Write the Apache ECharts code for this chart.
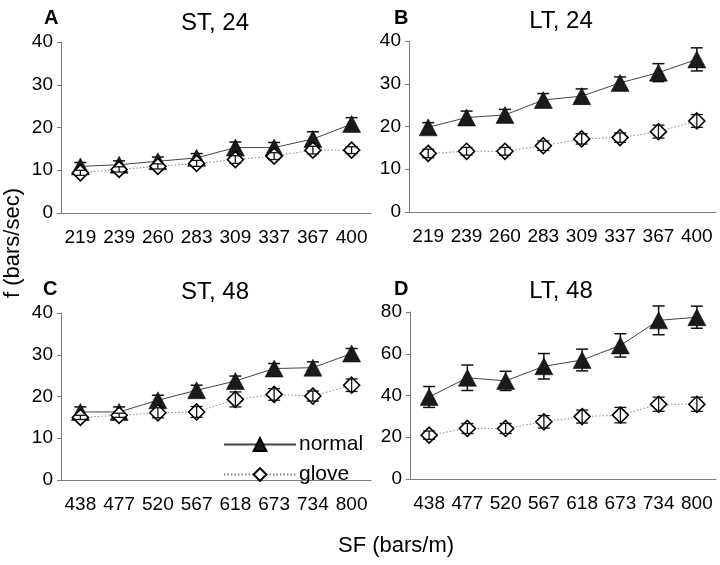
<!DOCTYPE html>
<html>
<head>
<meta charset="utf-8">
<script src="https://cdn.jsdelivr.net/npm/echarts@6/dist/echarts.min.js"></script>
<style>html,body{margin:0;padding:0;background:#fff;}#c{width:720px;height:565px;}</style>
</head>
<body>
<div id="c"></div>
<script>
const cats24 = ['219','239','260','283','309','337','367','400'];
const cats48 = ['438','477','520','567','618','673','734','800'];

const A_normal   = [10.9, 11.3, 12.1, 12.9, 15.3, 15.3, 17.3, 20.8];
const A_normalSE = [0.9, 0.9, 1.0, 1.0, 1.3, 1.2, 1.7, 1.5];
const A_glove    = [9.4, 10.2, 10.9, 11.6, 12.5, 13.3, 14.7, 14.7];
const A_gloveSE  = [0.6, 0.6, 0.6, 0.7, 0.9, 0.8, 0.9, 0.8];

const B_normal   = [19.8, 22.1, 22.7, 26.2, 27.1, 30.2, 32.6, 35.7];
const B_normalSE = [1.1, 1.5, 1.3, 1.5, 1.7, 1.4, 2.1, 2.7];
const B_glove    = [13.7, 14.2, 14.2, 15.5, 17.1, 17.4, 18.8, 21.3];
const B_gloveSE  = [1.0, 0.9, 0.9, 1.1, 1.2, 1.1, 1.5, 1.5];

const C_normal   = [16.3, 16.3, 19.1, 21.5, 23.7, 26.7, 26.9, 30.3];
const C_normalSE = [1.2, 1.2, 1.2, 1.2, 1.2, 1.2, 1.4, 1.2];
const C_glove    = [15.0, 15.5, 16.1, 16.3, 19.3, 20.5, 20.1, 22.7];
const C_gloveSE  = [0.5, 0.5, 1.2, 1.3, 1.8, 1.4, 1.2, 1.5];

const D_normal   = [39.3, 48.5, 47.0, 54.0, 57.0, 64.0, 76.0, 77.5];
const D_normalSE = [5.0, 6.1, 4.6, 6.1, 5.2, 5.6, 6.9, 5.3];
const D_glove    = [21.0, 24.2, 24.2, 27.4, 29.9, 30.6, 35.8, 35.8];
const D_gloveSE  = [2.0, 2.4, 2.4, 3.0, 3.1, 3.7, 3.4, 3.4];

const yMax = [40, 40, 40, 80];
const yInt = [10, 10, 10, 20];

const FONT = 'Arial, "Liberation Sans", sans-serif';
const panels = [
  {cats: cats24, n: A_normal, nse: A_normalSE, g: A_glove, gse: A_gloveSE},
  {cats: cats24, n: B_normal, nse: B_normalSE, g: B_glove, gse: B_gloveSE},
  {cats: cats48, n: C_normal, nse: C_normalSE, g: C_glove, gse: C_gloveSE},
  {cats: cats48, n: D_normal, nse: D_normalSE, g: D_glove, gse: D_gloveSE}
];

const grids = [
  {left: 61, top: 42, width: 310, height: 171},
  {left: 409, top: 41, width: 307, height: 171},
  {left: 61, top: 313, width: 310, height: 167},
  {left: 410, top: 312, width: 306, height: 167}
];

const axisColor = '#7a7a7a';
const xAxes = [], yAxes = [], series = [];

function errRender(capHalf, color, width) {
  return function (params, api) {
    const i = api.value(0), v = api.value(1), se = api.value(2);
    const top = api.coord([i, v + se]);
    const bot = api.coord([i, v - se]);
    const st = {stroke: color, lineWidth: width};
    return {
      type: 'group',
      children: [
        {type: 'line', shape: {x1: top[0], y1: top[1], x2: bot[0], y2: bot[1]}, style: st},
        {type: 'line', shape: {x1: top[0] - capHalf, y1: top[1], x2: top[0] + capHalf, y2: top[1]}, style: st},
        {type: 'line', shape: {x1: bot[0] - capHalf, y1: bot[1], x2: bot[0] + capHalf, y2: bot[1]}, style: st}
      ]
    };
  };
}

panels.forEach((p, k) => {
  xAxes.push({
    type: 'category', gridIndex: k, data: p.cats, boundaryGap: true,
    axisLine: {lineStyle: {color: axisColor, width: 1}},
    axisTick: {inside: true, length: 5, lineStyle: {color: axisColor}},
    axisLabel: {interval: 0, color: '#000', fontSize: 19, fontFamily: FONT, margin: 15}
  });
  yAxes.push({
    type: 'value', gridIndex: k, min: 0, max: yMax[k], interval: yInt[k],
    splitLine: {show: false},
    axisLine: {show: true, lineStyle: {color: axisColor, width: 1}},
    axisTick: {show: true, length: 4, lineStyle: {color: axisColor}},
    axisLabel: {color: '#000', fontSize: 19, fontFamily: FONT, margin: 8}
  });
  series.push({
    type: 'custom', name: 'normalErr', xAxisIndex: k, yAxisIndex: k, z: 2,
    renderItem: errRender(6, '#111', 1.5),
    data: p.n.map((v, i) => [i, v, p.nse[i]])
  });
  series.push({
    type: 'line', name: 'normal', xAxisIndex: k, yAxisIndex: k, z: 3,
    data: p.n, symbol: 'triangle', symbolSize: [18, 17],
    lineStyle: {color: '#444', width: 1, type: 'solid'},
    itemStyle: {color: '#1a1a1a', borderColor: '#000', borderWidth: 0.5},
    animation: false
  });
  series.push({
    type: 'line', name: 'glove', xAxisIndex: k, yAxisIndex: k, z: 4,
    data: p.g, symbol: 'diamond', symbolSize: [16, 16],
    lineStyle: {color: '#888', width: 1, type: [1.5, 2]},
    itemStyle: {color: '#fff', borderColor: '#000', borderWidth: 1.6},
    animation: false
  });
  series.push({
    type: 'custom', name: 'gloveErr', xAxisIndex: k, yAxisIndex: k, z: 5,
    renderItem: errRender(6, '#111', 1.3),
    data: p.g.map((v, i) => [i, v, p.gse[i]])
  });
});

const titleTexts = ['ST, 24', 'LT, 24', 'ST, 48', 'LT, 48'];
const titleX = [210, 556, 210, 556];
const titleY = [6, 4, 275, 274];
const letters = ['A', 'B', 'C', 'D'];
const letterX = [39, 389, 38, 389];
const letterY = [3, 3, 274, 274];

const titles = [];
titleTexts.forEach((t, k) => {
  titles.push({text: t, left: titleX[k], top: titleY[k], textAlign: 'center',
    textStyle: {fontSize: 24, fontWeight: 'normal', color: '#000', fontFamily: FONT}});
  titles.push({text: letters[k], left: letterX[k], top: letterY[k],
    textStyle: {fontSize: 20, fontWeight: 'bold', color: '#000', fontFamily: FONT}});
});

const option = {
  backgroundColor: '#fff',
  animation: false,
  title: titles,
  grid: grids,
  xAxis: xAxes,
  yAxis: yAxes,
  series: series,
  legend: {
    data: ['normal', 'glove'], orient: 'vertical', left: 218, top: 429,
    itemWidth: 72, itemHeight: 16, itemGap: 9, selectedMode: false,
    textStyle: {fontSize: 21, color: '#000', fontFamily: FONT, padding: [0, 0, 0, -2]}
  },
  graphic: [
    {type: 'text', left: 2, top: 188, rotation: Math.PI / 2,
      style: {text: 'f (bars/sec)', fontSize: 22, fill: '#000', font: '22px Arial, "Liberation Sans", sans-serif'}},
    {type: 'text', left: 338, top: 535,
      style: {text: 'SF (bars/m)', fontSize: 22, fill: '#000', font: '22px Arial, "Liberation Sans", sans-serif'}}
  ]
};

const chart = echarts.init(document.getElementById('c'), null, {renderer: 'canvas'});
chart.setOption(option);
</script>
</body>
</html>
